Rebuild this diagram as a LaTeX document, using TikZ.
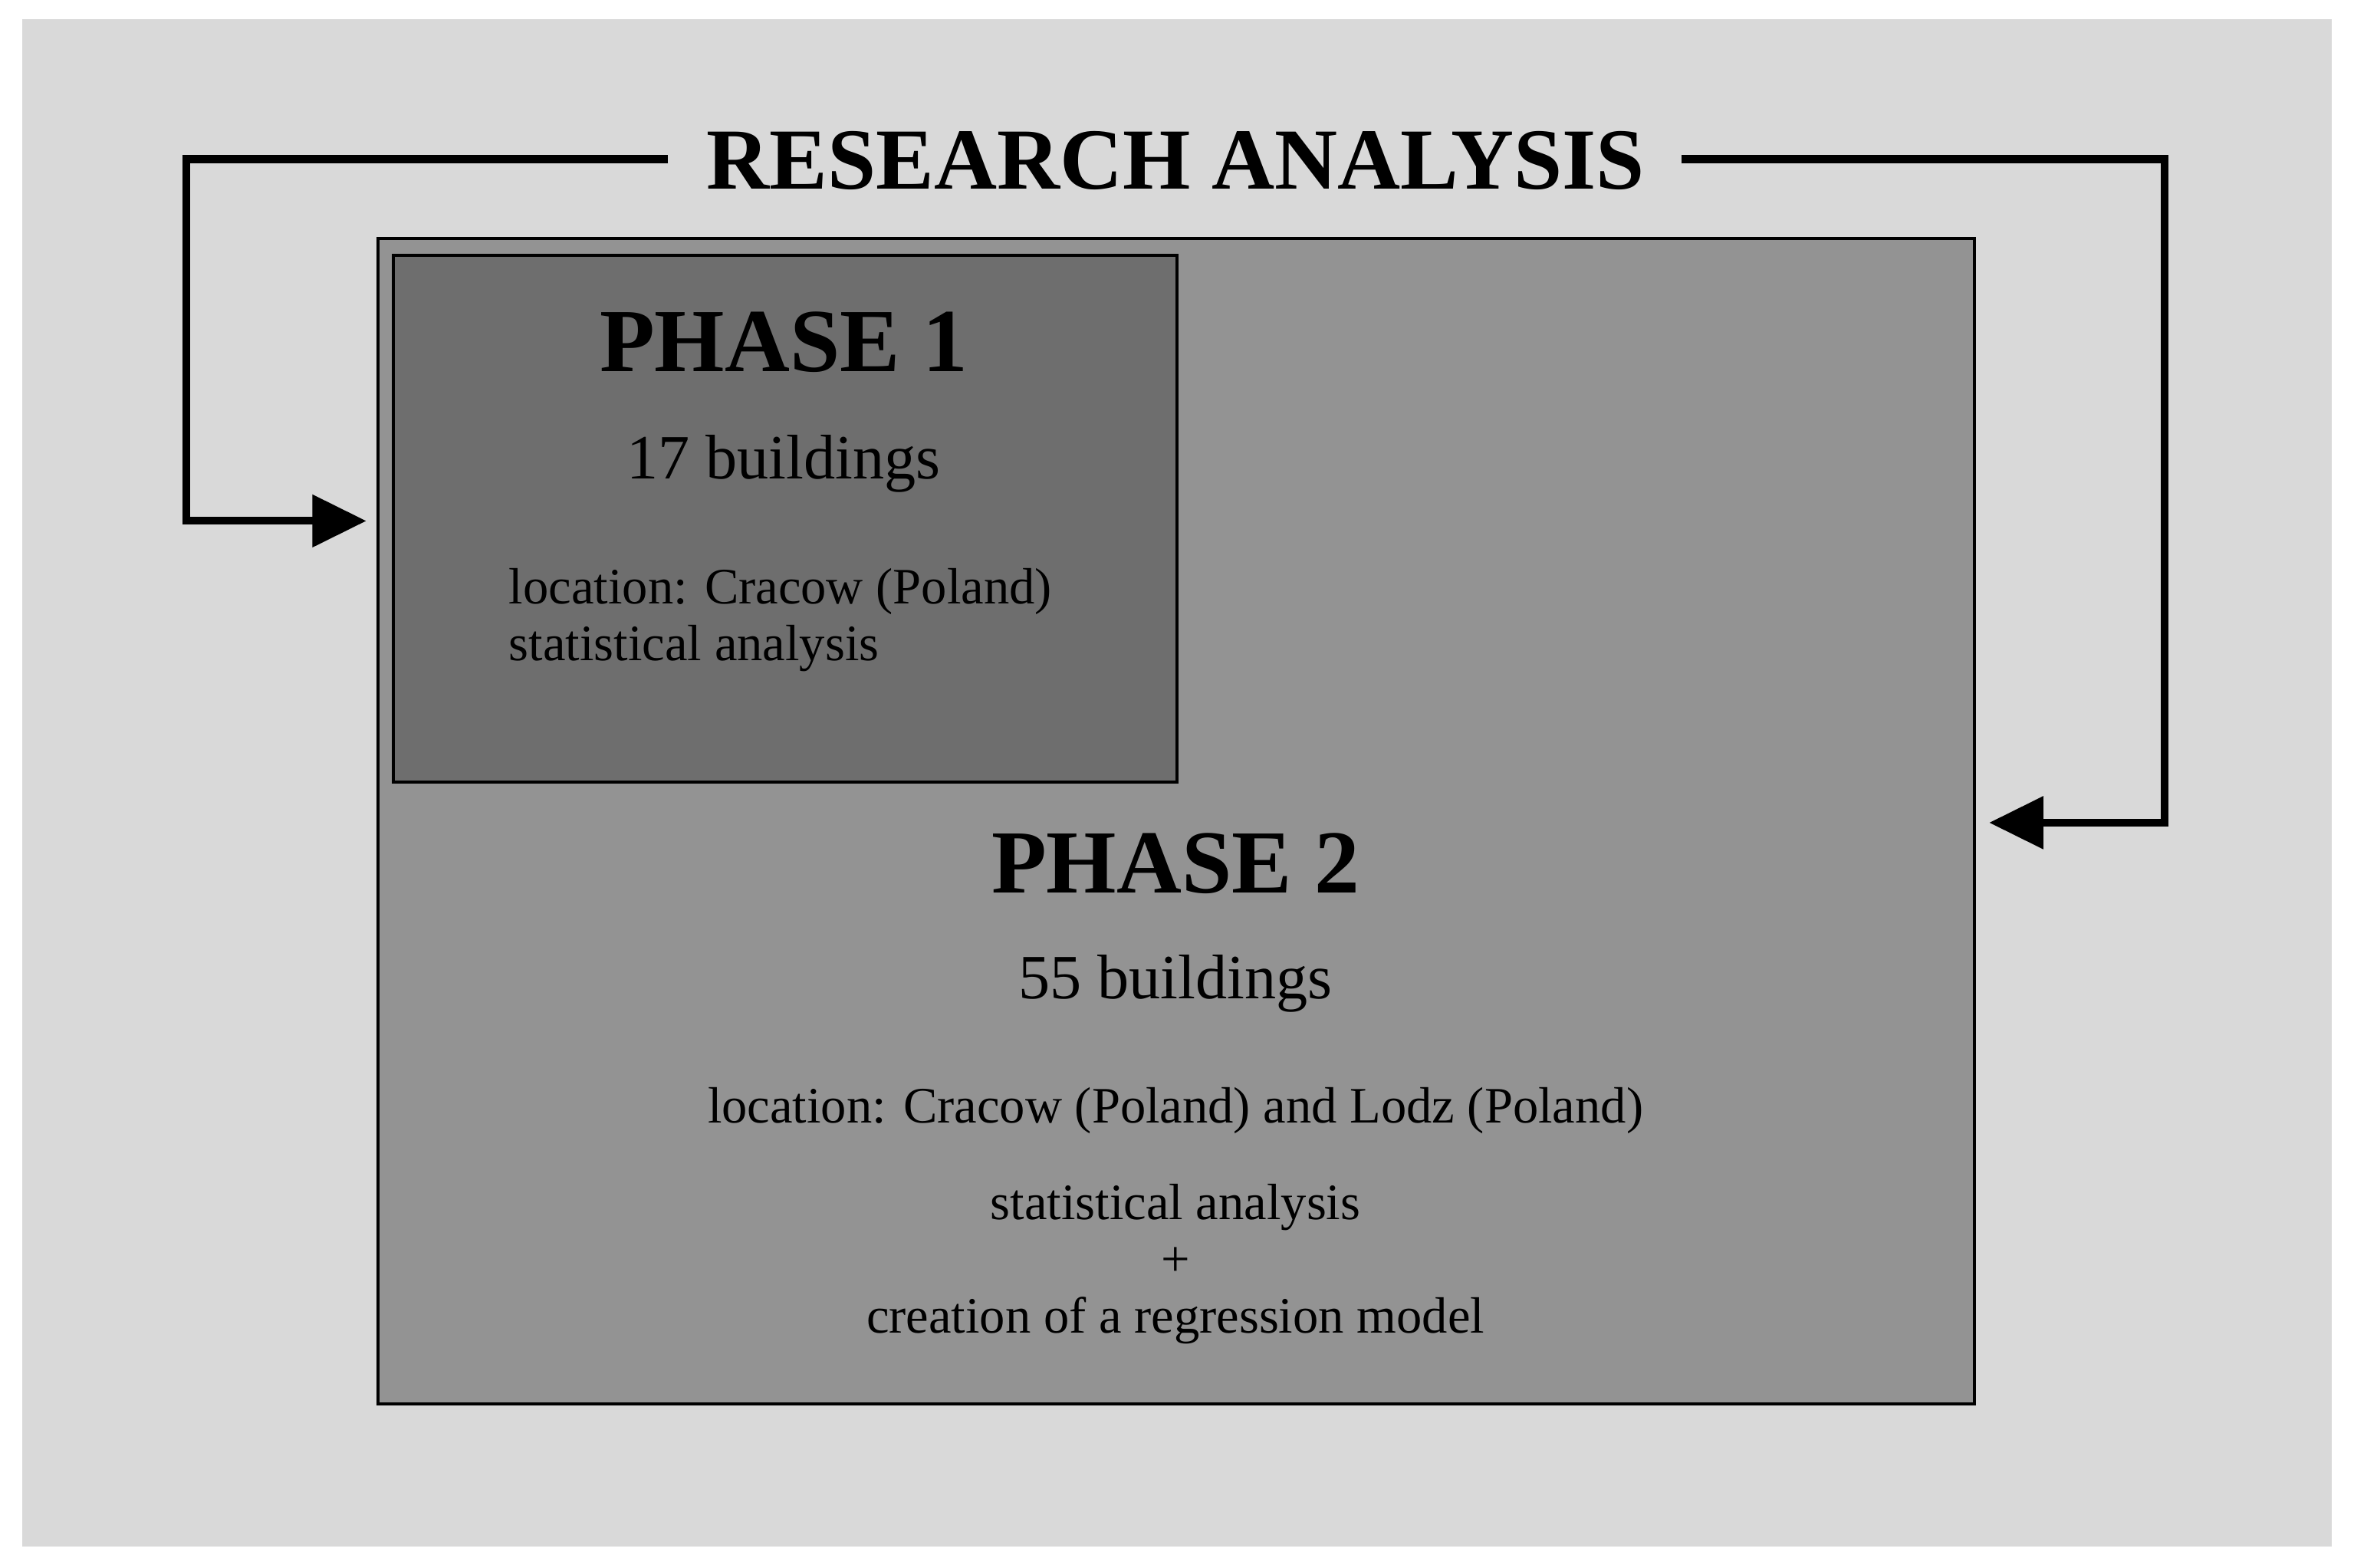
\documentclass[tikz,border=0pt]{standalone}
\usepackage{fontspec}
\setmainfont{Liberation Serif}
\usetikzlibrary{arrows.meta}
\definecolor{bgc}{HTML}{D9D9D9}
\definecolor{p2c}{HTML}{939393}
\definecolor{p1c}{HTML}{6E6E6E}
\tikzset{
  conn/.style={line width=2.6pt,-{Triangle[length=18pt,width=17pt]}},
  big/.style={font=\fontsize{30}{34}\selectfont\bfseries},
  mid/.style={font=\fontsize{21}{24}\selectfont},
  small/.style={font=\fontsize{17}{19}\selectfont},
}
\begin{document}
\begin{tikzpicture}[x=0.5pt,y=-0.5pt]
\useasboundingbox (0,0) rectangle (1568,1044);
\fill[white] (0,0) rectangle (1568,1044);
\fill[bgc] (15,13) rectangle (1553,1030);
\draw[line width=1pt,fill=p2c] (252,159) rectangle (1315,935);
\draw[line width=1pt,fill=p1c] (262,170) rectangle (784,521);
\node[big,font=\fontsize{29}{34}\selectfont\bfseries] (title) at (783,107) {RESEARCH ANALYSIS};
\coordinate (lc) at (124,106);
\coordinate (ld) at (124,347);
\coordinate (le) at (244,347);
\coordinate (rc) at (1442,106);
\coordinate (rd) at (1442,548);
\coordinate (re) at (1325,548);
\draw[conn] (445,106) -- (lc) -- (ld) -- (le);
\draw[conn] (1120,106) -- (rc) -- (rd) -- (re);
\node[big] (p1) at (522,228) {PHASE 1};
\node[mid] (b1) at (522,309) {17 buildings};
\node[small,anchor=west,align=left] (l1) at (332,413) {location: Cracow (Poland)\\statistical analysis};
\node[big] (p2) at (783,575) {PHASE 2};
\node[mid] (b2) at (783,655) {55 buildings};
\node[small] (l2) at (783,740) {location: Cracow (Poland) and Lodz (Poland)};
\node[small,align=center] (s2) at (783,842) {statistical analysis\\+\\creation of a regression model};
\end{tikzpicture}
\end{document}
